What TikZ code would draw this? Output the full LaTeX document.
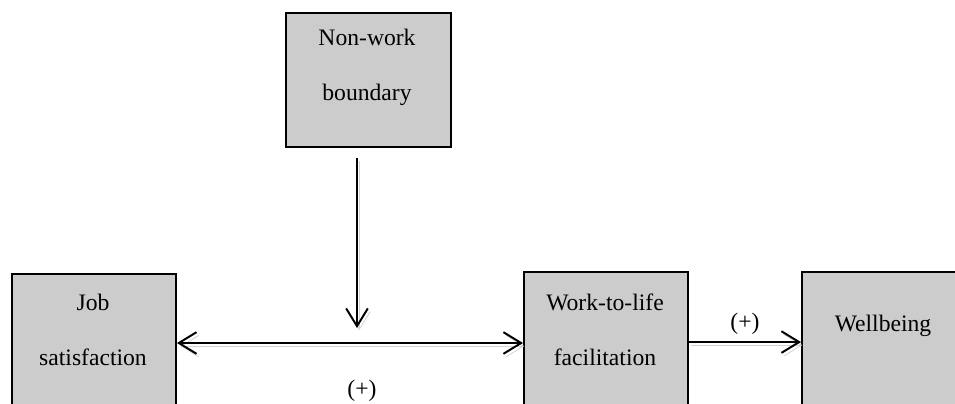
\documentclass[tikz,border=0pt]{standalone}
\usepackage{fontspec}
\setmainfont{Liberation Serif}
\usetikzlibrary{arrows.meta}

\tikzset{
    box/.style={draw, line width=1pt, fill=gray!40, inner sep=0pt, anchor=north west,
        minimum width=83.3pt},
    txt/.style={align=center, font=\fontsize{12}{28}\selectfont},
    shadowed/.style={preaction={draw=gray!35, transform canvas={shift={(1.2pt,-1.6pt)}}}},
    arr/.style={line width=1pt, shadowed, -{Straight Barb[length=9pt,width=11pt]}},
    biarr/.style={line width=1pt, shadowed, {Straight Barb[length=9pt,width=11pt]}-{Straight Barb[length=9pt,width=11pt]}}
}

\begin{document}
\begin{tikzpicture}[x=0.508pt,y=-0.508pt]
    \useasboundingbox (0,0) rectangle (955,404);
    \clip (0,0) rectangle (955,404);
    % boxes
    \node[box, minimum width=83.8pt, minimum height=68.1pt] (nwb) at (285,12) {};
    \node[box, minimum height=76.2pt] (job) at (11,273) {};
    \node[box, minimum height=76.2pt] (wlf) at (523,271) {};
    \node[box, minimum width=120pt, minimum height=76.2pt] (wb) at (801,271) {};
    \node[txt] at (367,67) {Non-work\\boundary};
    \node[txt] at (93,330) {Job\\satisfaction};
    \node[txt] at (605,330) {Work-to-life\\facilitation};
    \node[txt] at (883,326) {Wellbeing};
    % connectors
    \coordinate (mod) at (357,343);
    \draw[arr, shorten <=5pt, shorten >=7.6pt] (nwb.south -| mod) -- (mod);
    \draw[biarr] (job.east |- mod) -- (wlf.west |- mod);
    \draw[arr] ([yshift=2.5pt]wlf.east) -- ([yshift=2.5pt]wb.west);
    \node[txt] at (362,391) {(+)};
    \node[txt] at (745,324) {(+)};
\end{tikzpicture}
\end{document}
